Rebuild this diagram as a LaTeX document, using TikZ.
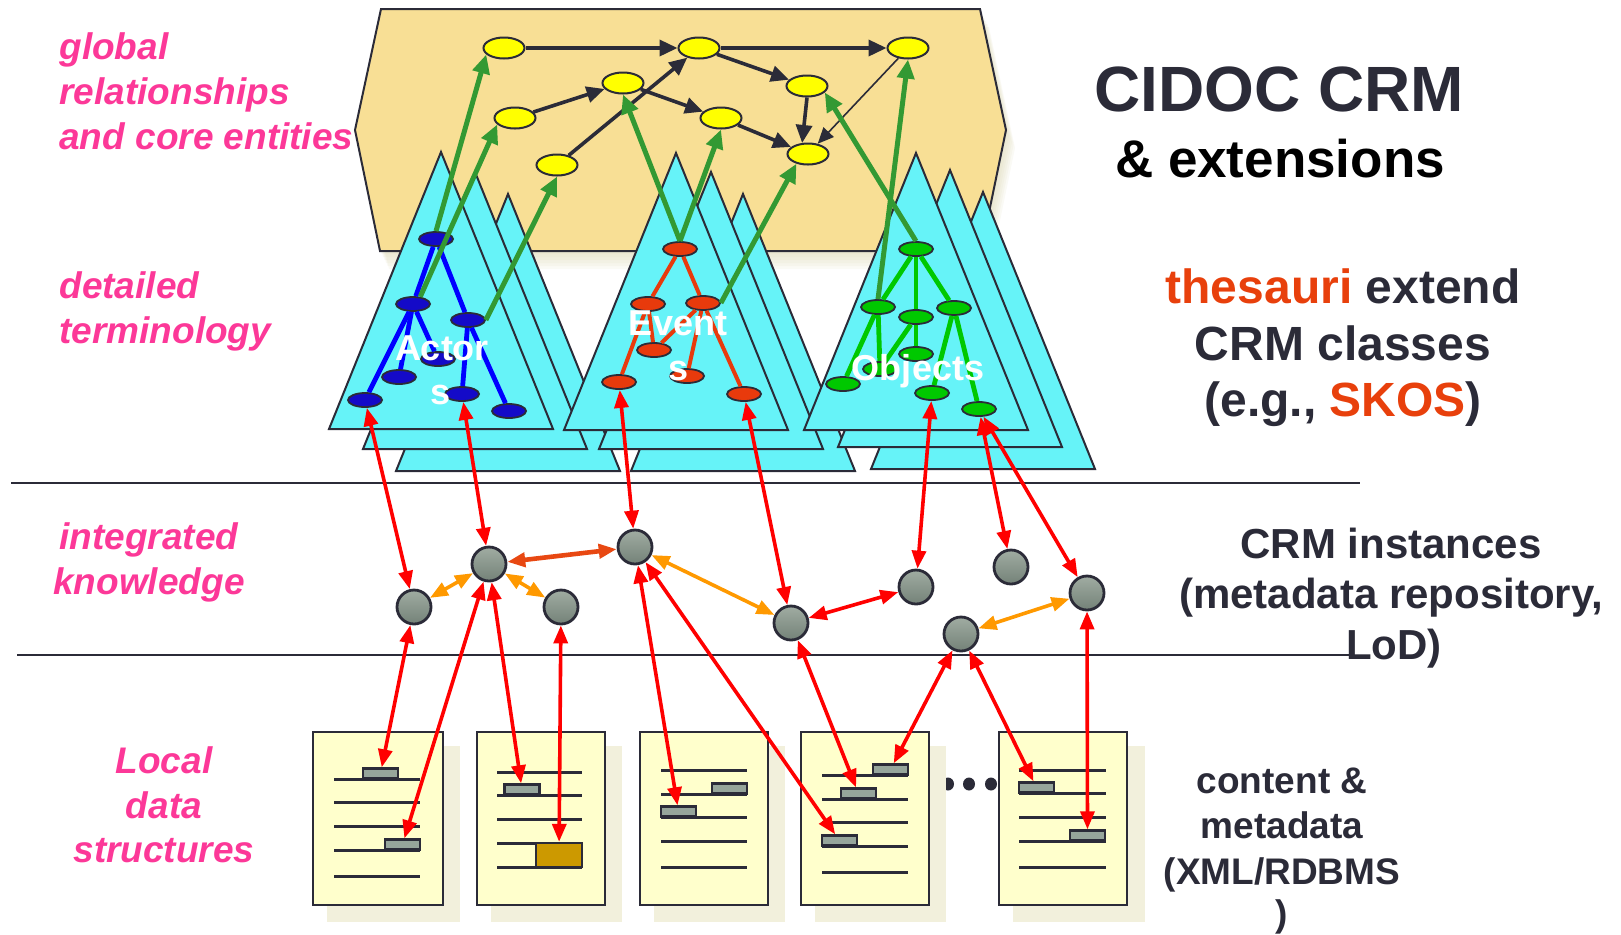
\documentclass[tikz,border=0pt]{standalone}
\usepackage{fontspec}
\setmainfont{Liberation Sans}
\usetikzlibrary{arrows.meta,shapes.geometric}

\definecolor{ink}{RGB}{43,43,56}
\definecolor{tanP}{RGB}{248,223,149}
\definecolor{shadc}{RGB}{215,210,170}
\definecolor{cyanT}{RGB}{102,243,248}
\definecolor{yel}{RGB}{255,255,0}
\definecolor{navyN}{RGB}{20,10,200}
\definecolor{blueE}{RGB}{0,0,255}
\definecolor{rust}{RGB}{232,58,12}
\definecolor{greenN}{RGB}{0,200,0}
\definecolor{greenA}{RGB}{51,153,51}
\definecolor{redA}{RGB}{255,0,0}
\definecolor{orangeA}{RGB}{255,153,0}
\definecolor{rustA}{RGB}{232,72,18}
\definecolor{grayL}{RGB}{160,172,162}
\definecolor{grayD}{RGB}{116,130,120}
\definecolor{docF}{RGB}{255,255,204}
\definecolor{docS}{RGB}{242,240,220}
\definecolor{fieldF}{RGB}{150,165,155}
\definecolor{goldF}{RGB}{204,153,0}
\definecolor{pinkT}{RGB}{252,56,152}
\definecolor{thes}{RGB}{232,64,12}

\begin{document}
\begin{tikzpicture}[x=0.5pt,y=-0.5pt,
  ynode/.style={ellipse, draw=ink, line width=1pt, fill=yel, minimum width=20.5pt, minimum height=10.5pt, inner sep=0pt},
  tnode/.style={ellipse, draw=ink, line width=0.9pt, minimum width=17pt, minimum height=7pt, inner sep=0pt},
  anode/.style={tnode, fill=navyN},
  enode/.style={tnode, fill=rust},
  onode/.style={tnode, fill=greenN},
  gnode/.style={circle, draw=ink, line width=1.4pt, minimum size=17pt, inner sep=0pt, top color=grayL, bottom color=grayD},
  darr/.style={draw=ink, line width=1.8pt, -{Triangle[length=9pt,width=8pt]}},
  thinarr/.style={draw=ink, line width=0.8pt, -{Triangle[length=8pt,width=7pt]}},
  garr/.style={draw=greenA, line width=2.5pt, -{Triangle[length=9.5pt,width=8.5pt]}},
  rarr/.style={draw=redA, line width=1.8pt, {Triangle[length=9pt,width=7pt]}-{Triangle[length=9pt,width=7pt]}},
  oarr/.style={rarr, draw=orangeA},
  rustarr/.style={rarr, draw=rustA, line width=2.3pt},
  bedge/.style={draw=blueE, line width=2.4pt},
  redge/.style={draw=rust, line width=2pt},
  gedge/.style={draw=greenN, line width=2.4pt},
  dline/.style={draw=ink, line width=1.5pt},
  docbox/.style={draw=ink, line width=1.2pt, fill=docF},
  field/.style={rectangle, draw=ink, line width=1.2pt, fill=fieldF, minimum width=17.5pt, minimum height=5pt, inner sep=0pt},
  goldbox/.style={field, fill=goldF, minimum width=23pt, minimum height=12pt},
  pinkL/.style={text=pinkT, font=\fontsize{18.5pt}{22pt}\selectfont\bfseries\itshape, inner sep=0pt},
  wlab/.style={text=white, font=\fontsize{18pt}{21pt}\selectfont\bfseries, inner sep=0pt, anchor=base},
  rlab/.style={text=ink, inner sep=0pt, anchor=base},
  cone/.pic={\draw[ink, line width=1pt, fill=cyanT] (0,0) -- (-112,277) -- (112,277) -- cycle;}
]
\useasboundingbox (0,0) rectangle (1621,934);

% ---------- panel with soft shadow ----------
\foreach \s in {3,6,...,18}
  \fill[shadc, opacity=0.12, shift={(\s*0.5,\s)}] (381,9) -- (980,9) -- (1006,130) -- (981,251) -- (380,251) -- (355,130) -- cycle;
\draw[ink, line width=1pt, fill=tanP] (381,9) -- (980,9) -- (1006,130) -- (981,251) -- (380,251) -- (355,130) -- cycle;

% ---------- core entities ----------
\node[ynode] (Y1) at (504,48) {};
\node[ynode] (Y2) at (699,48) {};
\node[ynode] (Y3) at (908,48) {};
\node[ynode] (Y4) at (623,83) {};
\node[ynode] (Y5) at (515,118) {};
\node[ynode] (Y6) at (807,86) {};
\node[ynode] (Y7) at (721,118) {};
\node[ynode] (Y8) at (808,154) {};
\node[ynode] (Y9) at (557,165) {};
\draw[darr] (Y1) -- (Y2);
\draw[darr] (Y2) -- (Y3);
\draw[darr] (Y5) -- (Y4);
\draw[darr] (Y4) -- (Y7);
\draw[darr] (Y9) -- (Y2);
\draw[darr] (Y2) -- (Y6);
\draw[darr] (Y7) -- (Y8);
\draw[darr] (Y6.south) -- (Y8.118);
\draw[thinarr] (Y3) -- (Y8);

% ---------- terminology cones ----------
\pic at (508,194) {cone};
\pic at (475,172) {cone};
\pic at (441,152) {cone};
\pic at (743,194) {cone};
\pic at (711,172) {cone};
\pic at (676,153) {cone};
\pic at (983,192) {cone};
\pic at (950,170) {cone};
\pic at (916,153) {cone};

% Actors tree
\node[anode] (A1) at (436,239) {};
\node[anode] (A2) at (413,304) {};
\node[anode] (A3) at (468,320) {};
\node[anode] (A4) at (438,359) {};
\node[anode] (A5) at (399,377) {};
\node[anode] (A6) at (365,400) {};
\node[anode] (A7) at (462,394) {};
\node[anode] (A8) at (509,411) {};
\draw[bedge] (A1) -- (A2);
\draw[bedge] (A1) -- (A3);
\draw[bedge] (A2) -- (A6);
\draw[bedge] (A2) -- (A4);
\draw[bedge] (A2) -- (A5);
\draw[bedge] (A3) -- (A7);
\draw[bedge] (A3) -- (A8);

% Events tree
\node[enode] (E1) at (680,249) {};
\node[enode] (E2) at (648,304) {};
\node[enode] (E3) at (703,303) {};
\node[enode] (E4) at (654,350) {};
\node[enode] (E5) at (687,376) {};
\node[enode] (E6) at (619,382) {};
\node[enode] (E7) at (744,394) {};
\draw[redge] (E1) -- (E2);
\draw[redge] (E1) -- (E3);
\draw[redge] (E2) -- (E6);
\draw[redge] (E2) -- (E4);
\draw[redge] (E3) -- (E4);
\draw[redge] (E3) -- (E5);
\draw[redge] (E3) -- (E7);

% Objects tree
\node[onode] (O1) at (916,249) {};
\node[onode] (O2) at (878,307) {};
\node[onode] (O3) at (916,317) {};
\node[onode] (O4) at (954,308) {};
\node[onode] (O5) at (916,354) {};
\node[onode] (O6) at (880,369) {};
\node[onode] (O7) at (843,384) {};
\node[onode] (O8) at (932,393) {};
\node[onode] (O9) at (979,409) {};
\draw[gedge] (O1) -- (O2);
\draw[gedge] (O1) -- (O3);
\draw[gedge] (O1) -- (O4);
\draw[gedge] (O2) -- (O7);
\draw[gedge] (O2) -- (O6);
\draw[gedge] (O3) -- (O6);
\draw[gedge] (O3) -- (O5);
\draw[gedge] (O4) -- (O8);
\draw[gedge] (O4) -- (O9);

% cone labels
\node[wlab] (tA1) at (442,360) {Actor};
\node[wlab] (tA2) at (441,404) {s};
\node[wlab] (tE1) at (678,335) {Event};
\node[wlab] (tE2) at (679,380) {s};
\node[wlab] (tO) at (918,380) {Objects};

% green links to core entities
\draw[garr] (A1.north) -- (Y1.200);
\draw[garr] (A2.45) -- (Y5.200);
\draw[garr] (A3.east) -- (Y9.south);
\draw[garr] (E1.north) -- (Y4.south);
\draw[garr] (E1.north) -- (Y7.south);
\draw[garr] (E3.east) -- (Y8.220);
\draw[garr] (O1.north) -- (Y6.-20);
\draw[garr] (O2.north) -- (Y3.south);

% ---------- layer separators ----------
\draw[ink, line width=1.2pt] (11,483) -- (1360,483);
\draw[ink, line width=1.2pt] (17,655) -- (1350,655);

% ---------- instances ----------
\node[gnode] (G1) at (414,607) {};
\node[gnode] (G2) at (489,564) {};
\node[gnode] (G3) at (561,607) {};
\node[gnode] (G4) at (635,547) {};
\node[gnode] (G5) at (791,623) {};
\node[gnode] (G6) at (916,587) {};
\node[gnode] (G7) at (1011,567) {};
\node[gnode] (G8) at (1087,593) {};
\node[gnode] (G9) at (961,634) {};

\draw[rarr] (A6) -- (G1);
\draw[rarr] (A7) -- (G2);
\draw[rarr] (E6) -- (G4);
\draw[rarr] (E7) -- (G5);
\draw[rarr] (O8) -- (G6);
\draw[rarr] (O9) -- (G7);
\draw[rarr] (O9) -- (G8);

\draw[oarr] (G1) -- (G2);
\draw[oarr] (G2) -- (G3);
\draw[rustarr] (G2) -- (G4);
\draw[oarr] (G4) -- (G5);
\draw[rarr] (G5) -- (G6);
\draw[oarr] (G9) -- (G8);

% ---------- local documents ----------
\fill[ink] (948,784) ellipse (6 and 6.5);
\fill[ink] (969,784) ellipse (6 and 6.5);
\fill[ink] (991,784) ellipse (6 and 6.5);

% doc 1
\fill[docS] (327,746) rectangle (460,922);
\draw[docbox] (313,732) rectangle (443,905);
\foreach \yy in {779,802,826,850,876} \draw[dline] (334,\yy) -- (420,\yy);
\node[field] (d1a) at (380.5,773.5) {};
\node[field] (d1b) at (402.5,844.5) {};
% doc 2
\fill[docS] (491,746) rectangle (622,922);
\draw[docbox] (477,732) rectangle (605,905);
\foreach \yy in {772,795,819,843,867} \draw[dline] (497,\yy) -- (582,\yy);
\node[field] (d2a) at (522,789.5) {};
\node[goldbox] (d2g) at (559,855) {};
% doc 3
\fill[docS] (654,746) rectangle (785,922);
\draw[docbox] (640,732) rectangle (768,905);
\foreach \yy in {770,794,817,841,867} \draw[dline] (661,\yy) -- (747,\yy);
\node[field] (d3a) at (729.5,788.5) {};
\node[field] (d3b) at (678.5,811.5) {};
% doc 4
\fill[docS] (815,746) rectangle (946,922);
\draw[docbox] (801,732) rectangle (929,905);
\foreach \yy in {775,799,822,846,872} \draw[dline] (822,\yy) -- (908,\yy);
\node[field] (d4a) at (890.5,769.5) {};
\node[field] (d4b) at (858.5,793.5) {};
\node[field] (d4c) at (839.5,840.5) {};
% doc 5
\fill[docS] (1013,746) rectangle (1145,922);
\draw[docbox] (999,732) rectangle (1127,905);
\foreach \yy in {770,793,817,841,867} \draw[dline] (1019,\yy) -- (1106,\yy);
\node[field] (d5a) at (1036.5,787.5) {};
\node[field] (d5b) at (1087.5,835.5) {};

\draw[rarr] (G1) -- (d1a);
\draw[rarr] (G2) -- (d1b);
\draw[rarr] (G2) -- (d2a);
\draw[rarr] (G3) -- (d2g);
\draw[rarr] (G4) -- (d3b);
\draw[rarr] (G4) -- (d4c);
\draw[rarr] (G5) -- (d4b);
\draw[rarr] (G9) -- (d4a);
\draw[rarr] (G9) -- (d5a);
\draw[rarr] (G8) -- (d5b);

% ---------- left labels ----------
\node[pinkL, anchor=base west] (l1) at (59,59) {global};
\node[pinkL, anchor=base west] (l2) at (59,104) {relationships};
\node[pinkL, anchor=base west] (l3) at (59,149) {and core entities};
\node[pinkL, anchor=base west] (l4) at (59,298) {detailed};
\node[pinkL, anchor=base west] (l5) at (59,343) {terminology};
\node[pinkL, anchor=base] (l6) at (149,549) {integrated};
\node[pinkL, anchor=base] (l7) at (149,594) {knowledge};
\node[pinkL, anchor=base] (l8) at (164,773) {Local};
\node[pinkL, anchor=base] (l9) at (164,818) {data};
\node[pinkL, anchor=base] (l10) at (164,862) {structures};

% ---------- right labels ----------
\node[rlab, font=\fontsize{32pt}{38pt}\selectfont\bfseries] (r1) at (1279,111) {CIDOC CRM};
\node[rlab, text=black, font=\fontsize{26.5pt}{32pt}\selectfont\bfseries] (r2) at (1280,177) {\& extensions};
\node[rlab, font=\fontsize{24pt}{29pt}\selectfont\bfseries] (r3) at (1343,303) {\textcolor{thes}{thesauri} extend};
\node[rlab, font=\fontsize{24pt}{29pt}\selectfont\bfseries] (r4) at (1343,360) {CRM classes};
\node[rlab, font=\fontsize{24pt}{29pt}\selectfont\bfseries] (r5) at (1343,416) {(e.g., \textcolor{thes}{SKOS})};
\node[rlab, font=\fontsize{21pt}{25pt}\selectfont\bfseries] (r6) at (1391,558) {CRM instances};
\node[rlab, font=\fontsize{21pt}{25pt}\selectfont\bfseries] (r7) at (1391,608) {(metadata repository,};
\node[rlab, font=\fontsize{21pt}{25pt}\selectfont\bfseries] (r8) at (1394,659) {LoD)};
\node[rlab, font=\fontsize{18.5pt}{22pt}\selectfont\bfseries] (r9) at (1282,793) {content \&};
\node[rlab, font=\fontsize{18.5pt}{22pt}\selectfont\bfseries] (r10) at (1282,838) {metadata};
\node[rlab, font=\fontsize{18.5pt}{22pt}\selectfont\bfseries] (r11) at (1282,884) {(XML/RDBMS};
\node[rlab, font=\fontsize{18.5pt}{22pt}\selectfont\bfseries] (r12) at (1282,926) {)};
\end{tikzpicture}
\end{document}
